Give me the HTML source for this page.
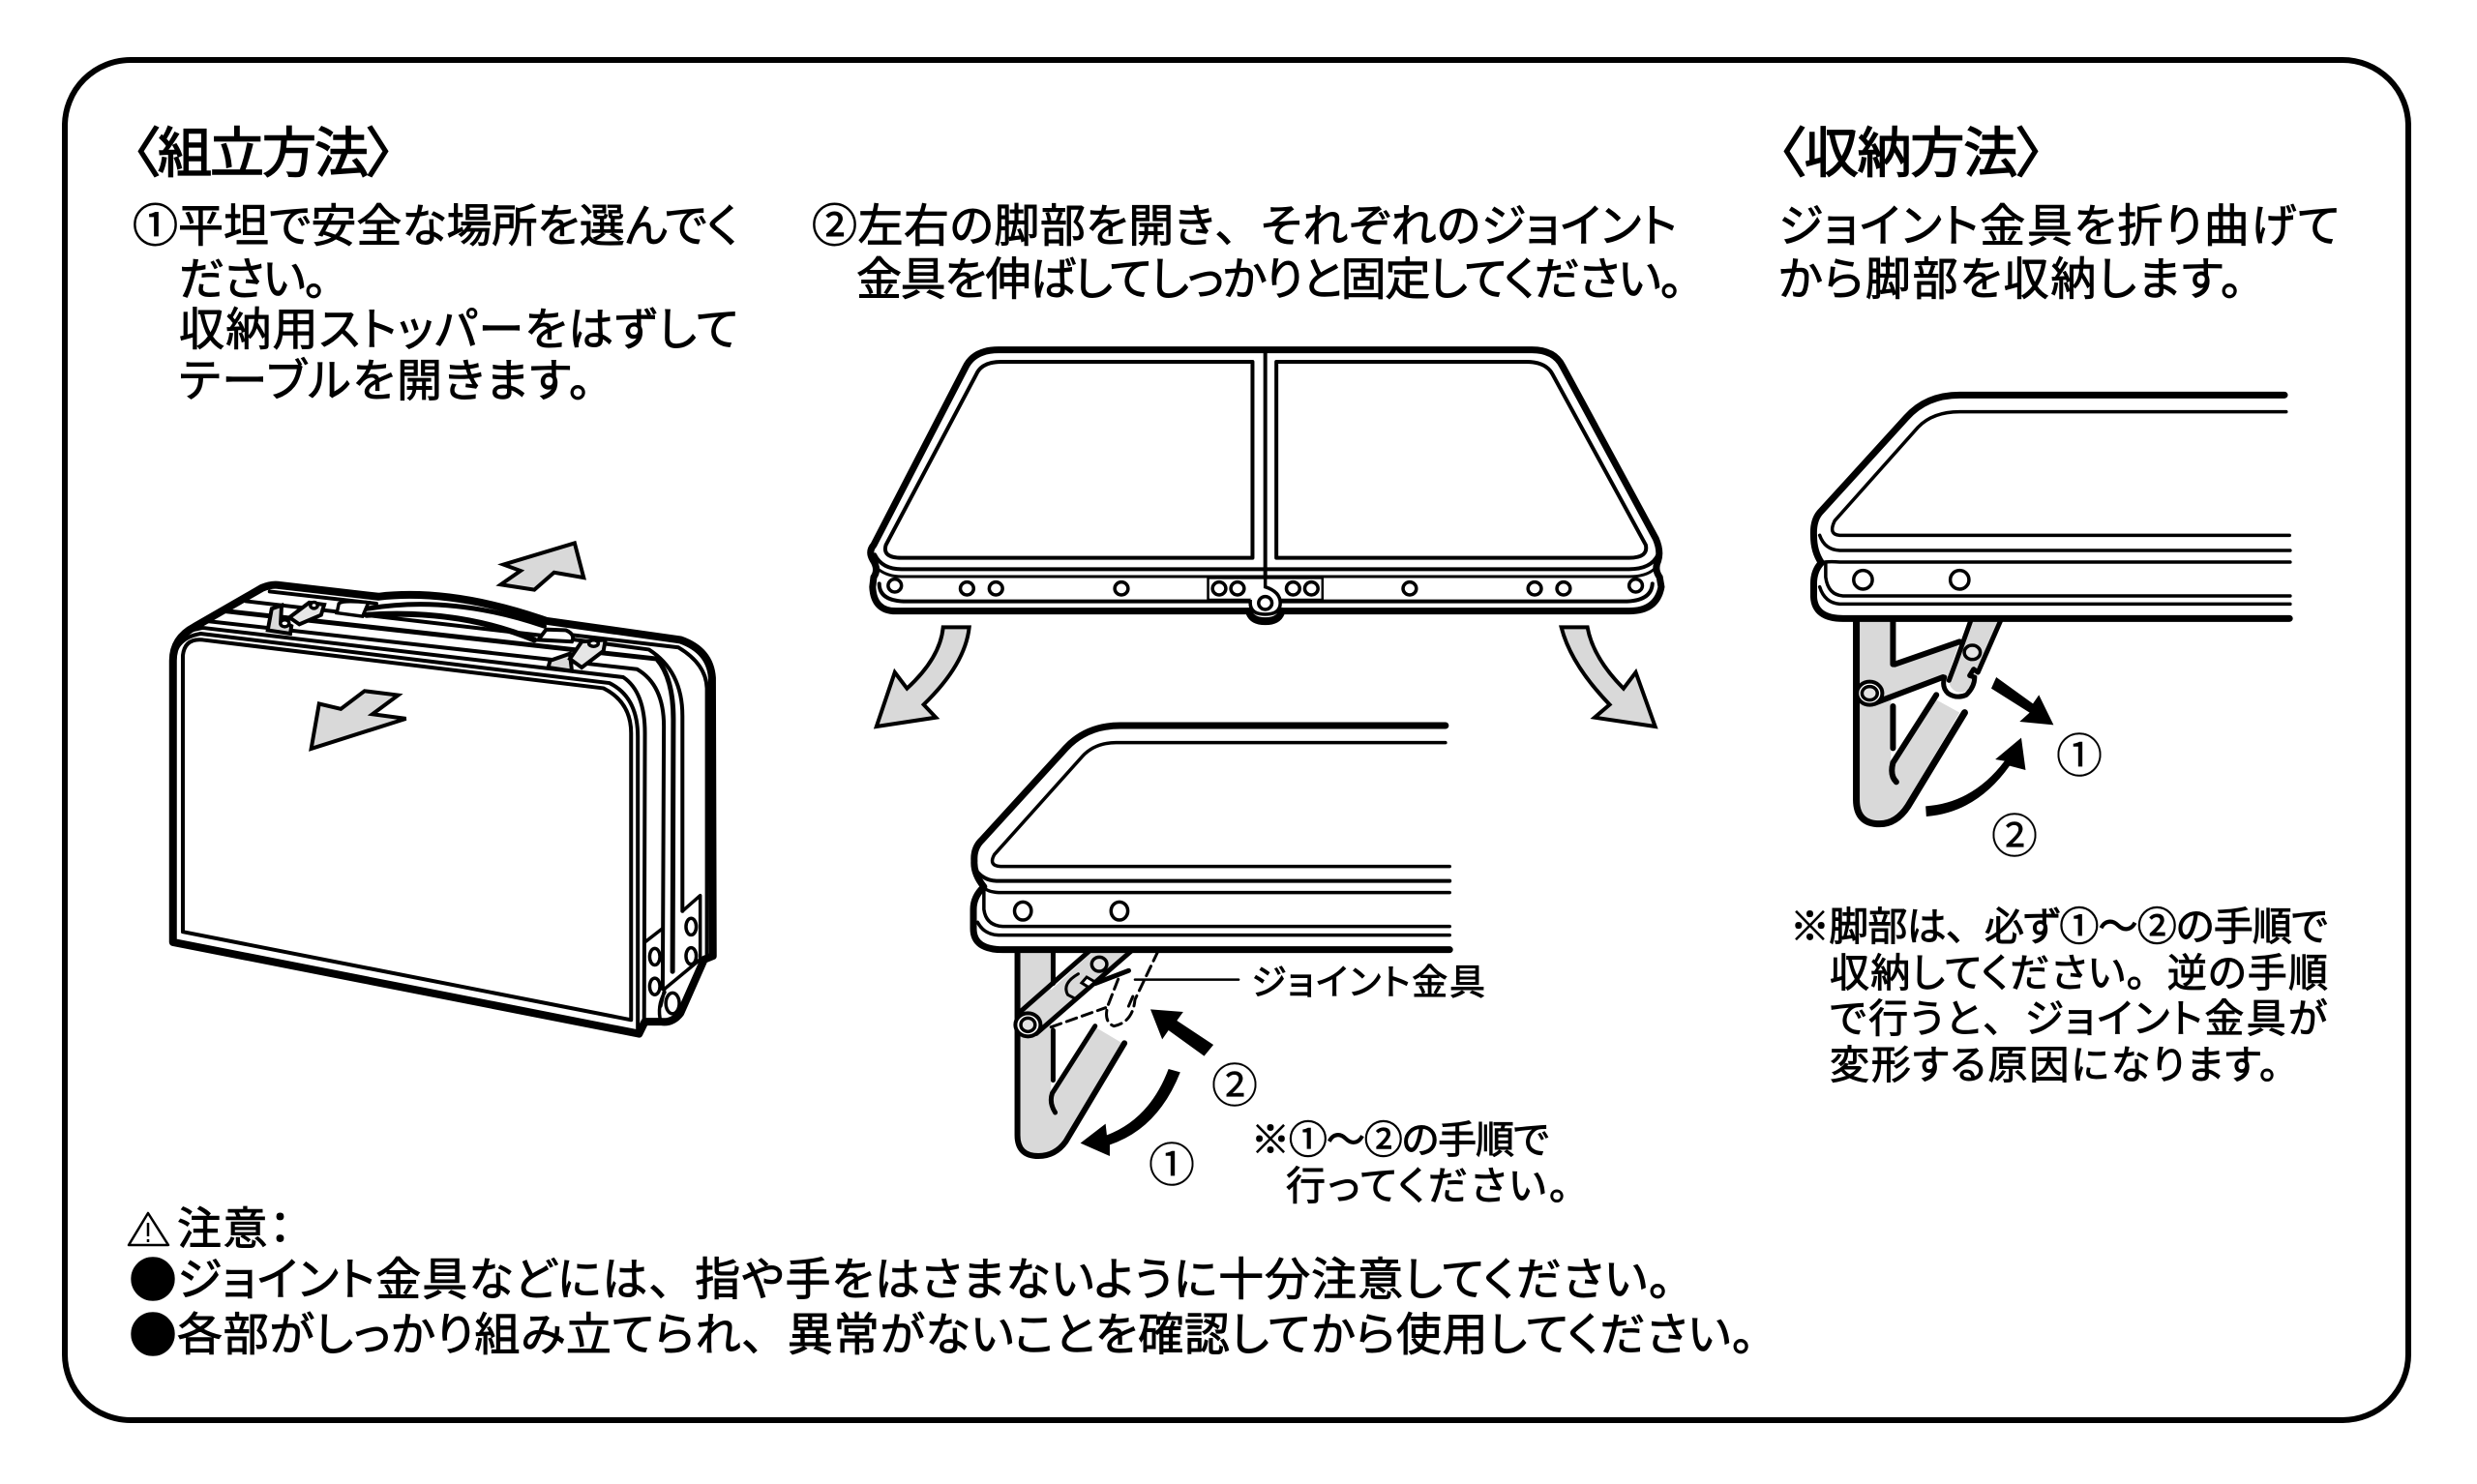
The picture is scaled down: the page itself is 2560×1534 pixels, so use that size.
<!DOCTYPE html>
<html lang="ja"><head><meta charset="utf-8"><title>組立方法</title>
<style>
html,body{margin:0;padding:0;background:#fff;width:2560px;height:1534px;overflow:hidden}
svg{display:block}
svg *{vector-effect:non-scaling-stroke}
text{font-family:"Noto Sans CJK JP","Liberation Sans",sans-serif;fill:#000;stroke:#000;stroke-width:.9;font-feature-settings:"palt";}
text.t{stroke-width:1.5}
text.c{stroke-width:.4;font-feature-settings:normal}
tspan.f{font-feature-settings:normal}
.n{fill:none;stroke:#000;stroke-linejoin:round;stroke-linecap:round}
.g{fill:#d9d9d9;stroke:none}
.ga{fill:#d9d9d9;stroke:#000;stroke-width:4;stroke-linejoin:miter}
.k{fill:#000;stroke:none}
.h{fill:#fff;stroke:#000;stroke-width:3.5}
.p{fill:#e4e4e4;stroke:#000;stroke-width:3.5}
</style></head><body>
<svg xmlns="http://www.w3.org/2000/svg" width="2560" height="1534" viewBox="0 0 2560 1534">
<rect width="2560" height="1534" fill="#fff"/>
<rect x="67" y="62" width="2422" height="1406" rx="68" fill="none" stroke="#000" stroke-width="6"/>

<!-- Headings and instructions -->
<text class="t" x="137" y="178" textLength="270" lengthAdjust="spacing" font-size="56">〈組立方法〉</text>
<text class="t" x="1838" y="178" textLength="274" lengthAdjust="spacing" font-size="56">〈収納方法〉</text>

<text x="137" y="250" font-size="47" textLength="626" lengthAdjust="spacing">①平坦で安全な場所を選んでく</text>
<text x="185" y="305" font-size="47" textLength="153" lengthAdjust="spacing">ださい。</text>
<text x="185" y="357" font-size="47" textLength="578" lengthAdjust="spacing">収納用ストッパーをはずして</text>
<text x="185" y="410" font-size="47" textLength="426" lengthAdjust="spacing">テーブルを開きます。</text>
<text x="839" y="250" font-size="47" textLength="894" lengthAdjust="spacing">②左右の脚部を開き<tspan class="f">、</tspan>それぞれのジョイント</text>
<text x="885" y="305" font-size="47" textLength="854" lengthAdjust="spacing">金具を伸ばしてしっかりと固定してください。</text>
<text x="1838" y="250" font-size="47" textLength="580" lengthAdjust="spacing">ジョイント金具を折り曲げて</text>
<text x="1838" y="305" font-size="47" textLength="480" lengthAdjust="spacing">から脚部を収納します。</text>

<text x="1850" y="972" font-size="41" textLength="556" lengthAdjust="spacing">※脚部は<tspan class="f">、</tspan>必ず①～②の手順で</text>
<text x="1891" y="1020" font-size="41" textLength="515" lengthAdjust="spacing">収納してください<tspan class="f">。</tspan>逆の手順</text>
<text x="1891" y="1067" font-size="41" textLength="514" lengthAdjust="spacing">で行うと<tspan class="f">、</tspan>ジョイント金具が</text>
<text x="1891" y="1115" font-size="41" textLength="464" lengthAdjust="spacing">変形する原因になります。</text>
<text x="1293" y="1028" font-size="37" textLength="242" lengthAdjust="spacing">ジョイント金具</text>
<text x="1293" y="1192" font-size="40" textLength="308" lengthAdjust="spacing">※①～②の手順で</text>
<text x="1329" y="1240" font-size="41" textLength="292" lengthAdjust="spacing">行ってください。</text>
<text class="c" x="1276" y="1139" font-size="48" text-anchor="middle">②</text>
<text class="c" x="1211" y="1221" font-size="48" text-anchor="middle">①</text>
<text class="c" x="2149" y="798" font-size="48" text-anchor="middle">①</text>
<text class="c" x="2082" y="881" font-size="48" text-anchor="middle">②</text>

<text x="183" y="1286" font-size="46" textLength="118" lengthAdjust="spacing">注意：</text>
<text class="c" x="133" y="1341" font-size="50">●</text>
<text class="c" x="133" y="1398" font-size="50">●</text>
<text x="183" y="1339" font-size="47" textLength="1544" lengthAdjust="spacing">ジョイント金具などには<tspan class="f">、</tspan>指や手をはさまないように十分注意してください。</text>
<text x="183" y="1396" font-size="47" textLength="1630" lengthAdjust="spacing">各部がしっかり組み立てられ<tspan class="f">、</tspan>異常がないことを確認してから使用してください。</text>
<path d="M153,1254 L174,1287 L133,1287 Z" fill="none" stroke="#000" stroke-width="2.5" stroke-linejoin="round"/>
<path d="M153,1264 V1278 M153,1281 V1284" stroke="#000" stroke-width="2.5" fill="none"/>

<!-- Closed case -->
<g transform="translate(140,540) scale(0.40816,0.35714)">
<path d="M1112,60 L1135,160 L1060,145 L1010,195 L925,180 L975,140 L932,122 Z" class="ga"/>
<path d="M445,655 L465,525 L520,540 L580,488 L665,500 L600,555 L685,568 Z" class="ga"/>
<path d="M95,1215 L95,400 Q95,335 150,302 L320,190 Q345,178 365,182 L615,215 Q800,190 1040,285 L1380,340 Q1455,370 1460,450 L1462,1255 L1440,1265 L1380,1420 Q1360,1450 1330,1445 L1290,1445 L1275,1480 Z" class="n" stroke-width="8"/>
<path d="M120,1185 L120,385 Q125,335 170,340 L1185,480 Q1255,520 1255,610 L1255,1440 Z" class="n" stroke-width="4"/>
<path d="M97,400 Q100,335 165,322 L1200,465 Q1272,505 1272,620 L1272,1465" class="n" stroke-width="4"/>
<path d="M130,315 L170,305 L1235,448 Q1290,490 1290,610 L1288,1445" class="n" stroke-width="4"/>
<path d="M175,285 L1270,425 Q1338,470 1338,590 L1335,1350" class="n" stroke-width="4"/>
<path d="M215,255 L1320,395 Q1362,450 1362,570 L1360,1300" class="n" stroke-width="5"/>
<path d="M280,228 L1050,330 L1300,368 Q1385,430 1385,560 L1385,1125" class="n" stroke-width="4"/>
<path d="M340,200 L610,235 M1100,325 L1375,362 Q1445,410 1447,480 L1447,1250" class="n" stroke-width="4"/>
<path d="M1290,1215 L1335,1175 M1385,1125 L1430,1080 L1430,1265 L1340,1350 L1330,1400" class="n" stroke-width="3.5"/>
<path d="M1295,1440 L1330,1445 Q1320,1400 1340,1360" class="n" stroke-width="3.5"/>
<ellipse cx="1360" cy="1392" rx="17" ry="30" class="h"/>
<ellipse cx="1315" cy="1257" rx="13" ry="24" class="h"/>
<ellipse cx="1315" cy="1343" rx="13" ry="24" class="h"/>
<ellipse cx="1407" cy="1170" rx="13" ry="24" class="h"/>
<ellipse cx="1407" cy="1255" rx="13" ry="24" class="h"/>
<!-- handle -->
<path d="M585,250 Q800,208 1035,300" class="n" stroke-width="5" fill="none"/>
<path d="M585,268 Q820,250 1010,340" class="n" stroke-width="6"/>
<path d="M510,262 L515,235 Q525,225 590,232 L575,272 Z" fill="#fff" stroke="#000" stroke-width="3.5"/>
<path d="M1020,340 L1040,310 L1090,312 Q1115,325 1105,345 Z" fill="#fff" stroke="#000" stroke-width="4"/>
<!-- latches -->
<path d="M335,312 L345,250 L370,240 L368,285 L395,300 L392,322 Z" fill="#d9d9d9" stroke="#000" stroke-width="4"/>
<path d="M390,275 L440,232 L478,238 L470,268 L415,295 Z" fill="#e6e6e6" stroke="#000" stroke-width="4"/>
<ellipse cx="452" cy="240" rx="9" ry="9" class="h"/>
<ellipse cx="378" cy="292" rx="11" ry="10" class="h"/>
<path d="M1045,420 L1050,400 L1100,380 L1105,430 Z" fill="#d9d9d9" stroke="#000" stroke-width="4"/>
<path d="M1100,395 L1130,345 L1190,340 L1185,372 L1130,420 Z" fill="#e6e6e6" stroke="#000" stroke-width="4"/>
<ellipse cx="1160" cy="350" rx="12" ry="9" class="h"/>
</g>

<!-- Open table -->
<g transform="translate(880,340) scale(0.57405,0.33333)">
<path d="M40,670 L205,120 Q220,65 265,65 L1225,65 Q1265,65 1280,115 L1448,650 Q1458,690 1452,720 Q1445,745 1455,770 L1458,800 Q1450,875 1400,875 L775,875 Q770,905 745,905 Q720,905 715,875 L80,875 Q40,875 38,800 L40,770 Q50,745 38,715 Q30,690 40,670 Z" class="n" stroke-width="7"/>
<path d="M270,102 L722,102 L722,710 L90,710 Q55,710 62,670 L225,140 Q235,102 270,102 Z" class="n" stroke-width="4"/>
<path d="M765,102 L1215,102 Q1250,102 1262,140 L1430,670 Q1435,710 1400,710 L765,710 Z" class="n" stroke-width="4"/>
<path d="M745,65 L745,800" class="n" stroke-width="4"/>
<path d="M42,700 Q55,745 90,745 L1400,745 Q1440,745 1452,700" class="n" stroke-width="4"/>
<path d="M48,745 Q65,768 90,768 L1400,768 Q1430,768 1445,745" class="n" stroke-width="3"/>
<path d="M50,790 Q50,845 100,845 L1390,845 Q1440,845 1442,790" class="n" stroke-width="4"/>
<rect x="642" y="772" width="206" height="68" fill="#fff" stroke="#000" stroke-width="2.5"/>
<path d="M745,772 L745,800 Q772,815 772,850 Q772,885 745,885 Q718,885 718,850 L718,840" fill="#fff" stroke="#000" stroke-width="3.5"/>
<path d="M775,875 Q770,908 745,908 Q720,908 715,875" class="n" stroke-width="7"/>
<g class="h"><ellipse cx="745" cy="850" rx="12" ry="20"/>
<ellipse cx="78" cy="796" rx="12" ry="20"/><ellipse cx="208" cy="805" rx="12" ry="20"/><ellipse cx="260" cy="805" rx="12" ry="20"/><ellipse cx="486" cy="805" rx="12" ry="20"/><ellipse cx="662" cy="805" rx="12" ry="20"/><ellipse cx="695" cy="805" rx="12" ry="20"/><ellipse cx="795" cy="805" rx="12" ry="20"/><ellipse cx="828" cy="805" rx="12" ry="20"/><ellipse cx="1005" cy="805" rx="12" ry="20"/><ellipse cx="1230" cy="805" rx="12" ry="20"/><ellipse cx="1282" cy="805" rx="12" ry="20"/><ellipse cx="1412" cy="796" rx="12" ry="20"/></g>
<path d="M165,925 L212,925 Q205,1040 130,1165 L152,1205 L45,1233 L78,1065 L100,1115 Q160,1020 165,925 Z" class="ga"/>
<path d="M1278,925 L1325,925 Q1335,1020 1390,1115 L1412,1065 L1447,1233 L1338,1205 L1365,1165 Q1295,1040 1278,925 Z" class="ga"/>
</g>

<!-- Centre detail -->
<g transform="translate(980,740) scale(0.43365,0.33333)">
<path d="M172,735 L245,735 L245,1175 L350,965 L415,1015 L280,1320 Q250,1360 215,1358 Q172,1355 172,1300 Z" class="g"/>
<path d="M175,935 L340,735 L440,735 L210,985 Z" class="g"/>
<path d="M165,730 L165,1300 Q165,1365 215,1365 Q255,1365 280,1320 L420,1015" class="n" stroke-width="6"/>
<path d="M250,730 L250,830 M250,975 L250,1130 M350,962 L248,1170 Q240,1200 255,1230" class="n" stroke-width="5"/>
<path d="M165,925 L340,725 M210,985 L440,725" class="n" stroke-width="5"/>
<path d="M1185,30 L410,30 Q330,30 280,100 L80,385 Q60,410 62,450 Q60,490 85,530 Q60,560 60,600 L60,660 Q60,725 130,725 L1195,725" class="n" stroke-width="7"/>
<path d="M1185,83 L400,83 Q350,83 320,125 L110,430 Q95,465 125,467 L1195,467" class="n" stroke-width="3.5"/>
<path d="M1195,512 L115,512 Q80,510 62,470" class="n" stroke-width="4"/>
<path d="M1195,548 L120,548 Q90,545 85,530" class="n" stroke-width="3.5"/>
<path d="M1195,653 L130,653 Q90,650 85,600 L85,540" class="n" stroke-width="3.5"/>
<path d="M1195,680 L120,680 Q85,678 70,640" class="n" stroke-width="3.5"/>
<ellipse cx="178" cy="605" rx="20" ry="28" class="h"/><ellipse cx="408" cy="605" rx="20" ry="28" class="h"/>
<ellipse cx="360" cy="770" rx="18" ry="22" class="p"/>
<path d="M330,810 L350,825 L335,842 L318,828 Z" fill="#fff" stroke="#000" stroke-width="3"/>
<path d="M310,800 Q270,830 285,865 L300,875" class="n" stroke-width="3"/>
<path d="M430,790 L350,830" class="n" stroke-width="5"/>
<ellipse cx="190" cy="958" rx="30" ry="36" fill="#fff" stroke="#000" stroke-width="4"/>
<ellipse cx="190" cy="958" rx="17" ry="21" class="p"/>
<path d="M500,730 L445,880 Q440,950 395,962 Q370,950 380,900 L410,800 M440,870 L425,915 M245,965 L375,905" class="n" stroke-width="3" stroke-dasharray="11 6" stroke-linecap="butt"/>
<path d="M445,818 L692,818" class="n" stroke-width="2.5"/>
<path d="M632,1020 L610,1055 L525,975 L510,1003 L482,910 L560,918 L545,945 Z" class="k"/>
<path d="M525,1095 L553,1105 Q500,1280 385,1330 L385,1365 L315,1325 L375,1265 L378,1300 Q480,1250 525,1095 Z" class="k"/>
</g>

<!-- Right detail -->
<g transform="translate(1860,390) scale(0.34435,0.33333)">
<path d="M178,750 L274,750 L274,1200 L410,1000 L480,1040 L320,1320 Q280,1375 240,1375 Q178,1375 178,1310 Z" class="g"/>
<path d="M190,955 L285,890 L480,820 L445,925 L225,1010 Z" class="g"/>
<path d="M515,750 L605,750 L540,915 L525,950 Q500,985 470,975 Q445,960 450,940 Z" class="g"/>
<path d="M170,750 L170,1310 Q170,1385 240,1385 Q290,1385 325,1330 L495,1040" class="n" stroke-width="7"/>
<path d="M280,750 L280,890 M280,1020 L280,1150 M410,985 L280,1195 Q270,1235 290,1255" class="n" stroke-width="6"/>
<path d="M285,890 L480,820 M225,1010 L430,930" class="n" stroke-width="6"/>
<path d="M515,750 L470,880 L448,940 M605,750 L535,915 L522,905 L510,925 L525,930 Q525,960 500,985 Q470,998 445,980 Q425,960 435,930" class="n" stroke-width="5"/>
<ellipse cx="210" cy="980" rx="38" ry="36" fill="#fff" stroke="#000" stroke-width="4"/>
<ellipse cx="210" cy="980" rx="23" ry="21" class="p"/>
<ellipse cx="518" cy="853" rx="24" ry="22" class="p"/>
<path d="M1455,55 L480,55 Q380,55 320,125 L60,420 Q40,445 42,490 Q42,540 65,575 Q42,600 42,640 L42,680 Q45,748 130,748 L1470,748" class="n" stroke-width="7"/>
<path d="M1460,107 L480,107 Q400,107 355,155 L105,445 Q85,488 120,490 L1470,490" class="n" stroke-width="3.5"/>
<path d="M1472,537 L120,537 Q75,535 60,490" class="n" stroke-width="3.5"/>
<path d="M1472,573 L120,573 Q85,570 65,575" class="n" stroke-width="3.5"/>
<path d="M1472,678 L130,678 Q85,675 78,620 L78,575" class="n" stroke-width="3.5"/>
<path d="M1472,703 L120,703 Q75,700 60,650" class="n" stroke-width="3.5"/>
<ellipse cx="190" cy="628" rx="28" ry="29" class="h"/><ellipse cx="480" cy="628" rx="28" ry="29" class="h"/>
<path d="M590,930 L575,965 L690,1040 L660,1068 L762,1078 L718,985 L700,1012 Z" class="k"/>
<path d="M378,1330 L380,1362 Q530,1350 630,1205 L678,1218 L665,1118 L587,1185 L615,1190 Q520,1320 378,1330 Z" class="k"/>
</g>
</svg>
</body></html>
